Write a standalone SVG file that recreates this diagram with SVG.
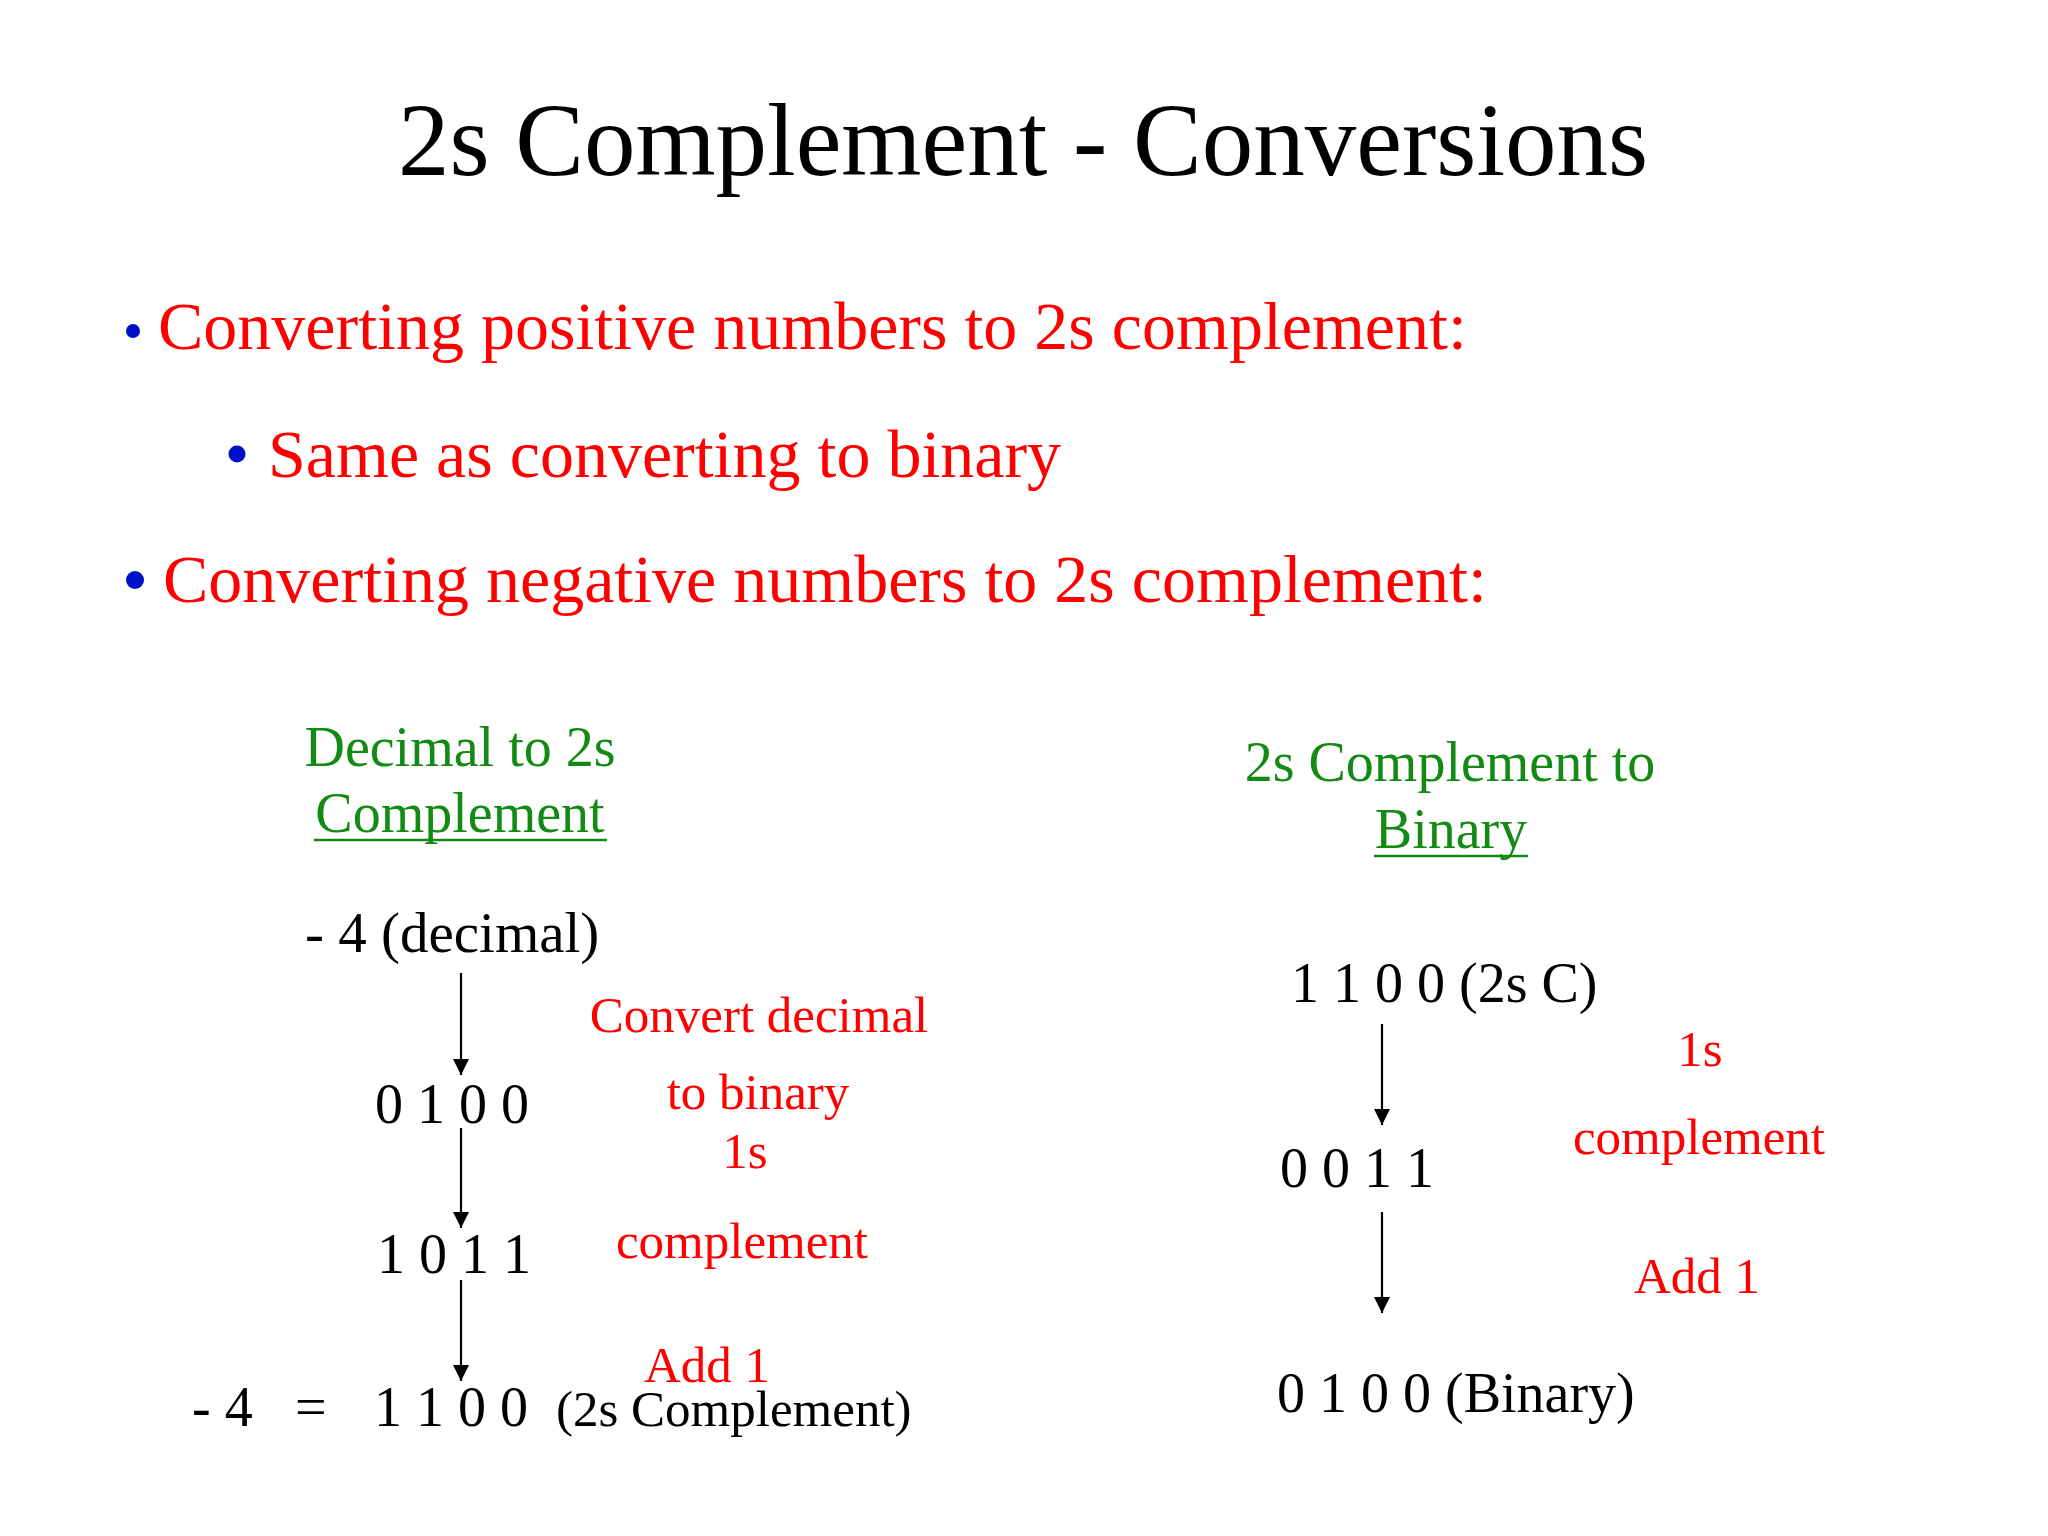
<svg xmlns="http://www.w3.org/2000/svg" width="2048" height="1536" viewBox="0 0 2048 1536">
<style>
text{font-family:"Liberation Serif","Times New Roman",serif}
.title{font-size:103px;fill:#000}
.b{font-size:68px;fill:#ff0000}
.h{font-size:56px;fill:#138a13}
.k{font-size:56px;fill:#000}
.k2{font-size:51px;fill:#000}
.r{font-size:51px;fill:#ff0000}
.dot{fill:#0010c8}
.arr{stroke:#000;stroke-width:2.2;fill:none;marker-end:url(#ah)}
.ul{stroke:#138a13;stroke-width:2.5}
</style>
<defs>
<marker id="ah" markerUnits="userSpaceOnUse" markerWidth="18" markerHeight="18" refX="16" refY="8" orient="auto">
<path d="M0,0 L16,8 L0,16 Z" fill="#000"/>
</marker>
</defs>
<rect width="2048" height="1536" fill="#fff"/>
<g id="title"><text class="title" x="1023" y="175" text-anchor="middle">2s Complement - Conversions</text></g>
<g id="bullet1"><circle class="dot" cx="133" cy="331" r="7"/><text class="b" x="158" y="349">Converting positive numbers to 2s complement:</text></g>
<g id="bullet2"><circle class="dot" cx="237" cy="454" r="8.5"/><text class="b" x="268" y="477">Same as converting to binary</text></g>
<g id="bullet3"><circle class="dot" cx="135" cy="580" r="9"/><text class="b" x="163" y="602">Converting negative numbers to 2s complement:</text></g>

<g id="left-heading"><text class="h" x="460" y="766" text-anchor="middle">Decimal to 2s</text><text class="h" x="460" y="832" text-anchor="middle">Complement</text><line class="ul" x1="314" y1="840" x2="607" y2="840"/></g>
<g id="l-n1"><text class="k" x="305" y="952" style="font-size:57px">- 4 (decimal)</text></g>
<g id="l-n2"><text class="k" x="375" y="1123">0 1 0 0</text></g>
<g id="l-n3"><text class="k" x="377" y="1273">1 0 1 1</text></g>
<g id="l-n4"><text class="k" x="192" y="1426">- 4</text><text class="k" x="295" y="1426">=</text><text class="k" x="374" y="1426">1 1 0 0</text><text class="k2" x="556" y="1426">(2s Complement)</text></g>
<g id="l-labels"><text class="r" x="759" y="1032" text-anchor="middle">Convert decimal</text><text class="r" x="758" y="1109" text-anchor="middle">to binary</text><text class="r" x="745" y="1168" text-anchor="middle">1s</text><text class="r" x="742" y="1258" text-anchor="middle">complement</text><text class="r" x="707" y="1382" text-anchor="middle">Add 1</text></g>

<g id="right-heading"><text class="h" x="1450" y="781" text-anchor="middle">2s Complement to</text><text class="h" x="1451" y="848" text-anchor="middle">Binary</text><line class="ul" x1="1374" y1="856" x2="1528" y2="856"/></g>
<g id="r-n1"><text class="k" x="1291" y="1002">1 1 0 0 (2s C)</text></g>
<g id="r-n2"><text class="k" x="1280" y="1187">0 0 1 1</text></g>
<g id="r-n3"><text class="k" x="1277" y="1412">0 1 0 0 (Binary)</text></g>
<g id="r-labels"><text class="r" x="1700" y="1066" text-anchor="middle">1s</text><text class="r" x="1699" y="1154" text-anchor="middle">complement</text><text class="r" x="1697" y="1293" text-anchor="middle">Add 1</text></g>

<g id="connectors">
<line class="arr" x1="461" y1="973" x2="461" y2="1075"/>
<line class="arr" x1="461" y1="1128" x2="461" y2="1228"/>
<line class="arr" x1="461" y1="1280" x2="461" y2="1381"/>
<line class="arr" x1="1382" y1="1024" x2="1382" y2="1125"/>
<line class="arr" x1="1382" y1="1212" x2="1382" y2="1313"/>
</g>
</svg>
